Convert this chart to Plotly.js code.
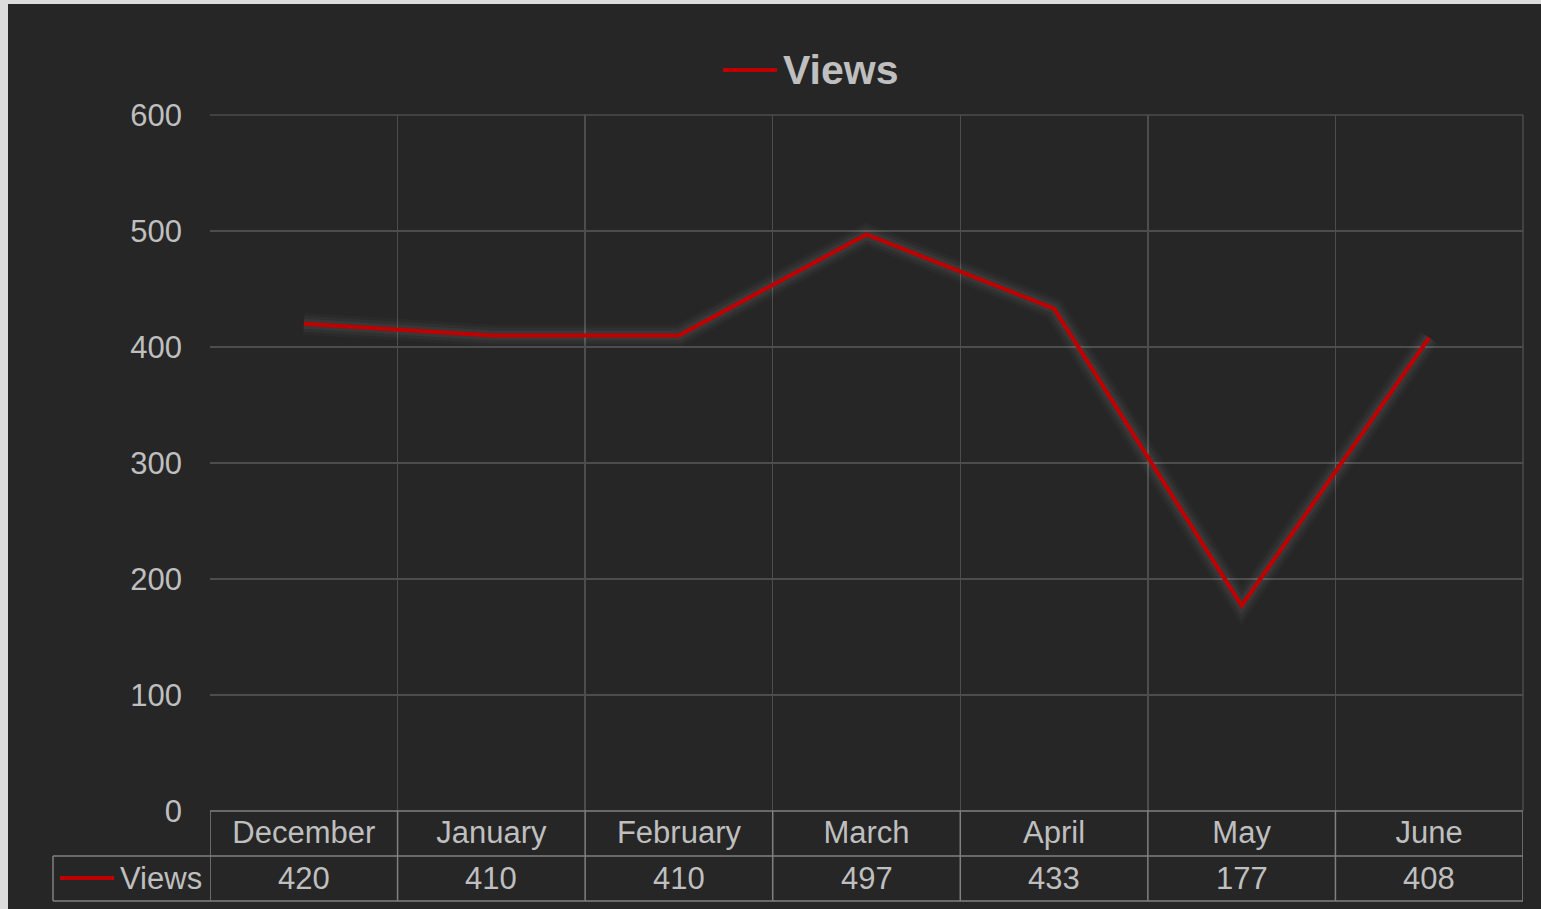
<!DOCTYPE html>
<html>
<head>
<meta charset="utf-8">
<script src="https://cdn.plot.ly/plotly-3.0.1.min.js"></script>
<style>
  html, body { margin: 0; padding: 0; background: #dcdcdc; width: 1541px; height: 909px; overflow: hidden; }
  #chart { position: absolute; left: 8px; top: 4px; width: 1533px; height: 905px; }
</style>
</head>
<body>
<div id="chart"></div>
<script>
const months = ["December", "January", "February", "March", "April", "May", "June"];
const views = [420, 410, 410, 497, 433, 177, 408];
const seriesName = "Views";
const yTicks = [0, 100, 200, 300, 400, 500, 600];

const textColor = "#bfbfbf";
const gridColor = "#4d4d4d";
const tableColor = "#808080";
const lineColor = "#c00000";
const bg = "#262626";
const font = "Liberation Sans, Arial, sans-serif";

// Plot area in div coordinates
const W = 1533, H = 905;
const M = { l: 202, r: 18, t: 111, b: 98 };
const plotW = W - M.l - M.r, plotH = H - M.t - M.b;
const px2py = (py) => -(py) / plotH;   // pixels below plot bottom -> paper y
const px2px = (pxOff) => pxOff / plotW;

const glow = [
  { w: 22, c: "rgba(255,255,255,0.02)" },
  { w: 16, c: "rgba(255,255,255,0.03)" },
  { w: 10, c: "rgba(255,255,255,0.04)" }
].map(g => ({
  type: "scatter", mode: "lines", x: months, y: views,
  line: { color: g.c, width: g.w }, hoverinfo: "skip", showlegend: false
}));

const main = {
  type: "scatter", mode: "lines", name: seriesName, x: months, y: views,
  line: { color: lineColor, width: 4 }, showlegend: false
};

const row1 = 45, row2 = 90; // table row bottoms in px below plot
const shapes = [];
shapes.push({ type: "line", xref: "paper", yref: "paper", x0: 0, x1: 1, y0: 0, y1: 0, line: { color: tableColor, width: 1.5 } });
shapes.push({ type: "line", xref: "paper", yref: "paper", x0: px2px(-157), x1: 1, y0: px2py(row1), y1: px2py(row1), line: { color: tableColor, width: 1.5 } });
shapes.push({ type: "line", xref: "paper", yref: "paper", x0: px2px(-157), x1: 1, y0: px2py(row2), y1: px2py(row2), line: { color: tableColor, width: 1.5 } });
for (let i = 0; i <= months.length; i++) {
  shapes.push({ type: "line", xref: "x", yref: "paper", x0: i - 0.5, x1: i - 0.5, y0: px2py(row2), y1: 0, line: { color: tableColor, width: 1.5 } });
}
shapes.push({ type: "line", xref: "paper", yref: "paper", x0: px2px(-157), x1: px2px(-157), y0: px2py(row2), y1: px2py(row1), line: { color: tableColor, width: 1.5 } });
shapes.push({ type: "line", xref: "paper", yref: "paper", x0: 1, x1: 1, y0: 0, y1: 1, line: { color: gridColor, width: 1.5 } });
shapes.push({ type: "line", xref: "paper", yref: "paper", x0: 0, x1: 1, y0: 1, y1: 1, line: { color: gridColor, width: 1.5 } });
// legend key in table
shapes.push({ type: "line", xref: "paper", yref: "paper", x0: px2px(-150), x1: px2px(-96), y0: px2py(67), y1: px2py(67), line: { color: lineColor, width: 4 } });
// legend key next to title
shapes.push({ type: "line", xref: "paper", yref: "paper", x0: px2px(513), x1: px2px(567), y0: 1 + 45 / plotH, y1: 1 + 45 / plotH, line: { color: lineColor, width: 4 } });

const annotations = views.map((v, i) => ({
  x: months[i], xref: "x", y: px2py(67), yref: "paper",
  text: String(v), showarrow: false, xanchor: "center", yanchor: "middle",
  font: { family: font, size: 31, color: textColor }
}));
annotations.push({
  x: px2px(-6), xref: "paper", y: px2py(67), yref: "paper",
  text: seriesName, showarrow: false, xanchor: "right", yanchor: "middle",
  font: { family: font, size: 31, color: textColor }
});

const layout = {
  width: W, height: H,
  paper_bgcolor: bg, plot_bgcolor: bg,
  margin: M,
  showlegend: false,
  title: {
    text: "<b>" + seriesName + "</b>",
    x: 775 / W, xref: "container", xanchor: "left",
    y: 1 - 66 / H, yref: "container", yanchor: "middle",
    font: { family: font, size: 41, color: textColor }
  },
  xaxis: {
    type: "category", range: [-0.5, months.length - 0.5],
    showgrid: true, gridcolor: gridColor, gridwidth: 1.5,
    tickson: "boundaries", ticks: "",
    showline: false, zeroline: false,
    tickfont: { family: font, size: 31, color: textColor },
    fixedrange: true
  },
  yaxis: {
    range: [0, 600], tickvals: yTicks,
    showgrid: true, gridcolor: gridColor, gridwidth: 1.5,
    zeroline: false, showline: false, ticks: "",
    ticklabelstandoff: 27,
    tickfont: { family: font, size: 31, color: textColor },
    fixedrange: true
  },
  shapes: shapes,
  annotations: annotations
};

Plotly.newPlot("chart", [...glow, main], layout, { displayModeBar: false, staticPlot: true });
</script>
</body>
</html>
